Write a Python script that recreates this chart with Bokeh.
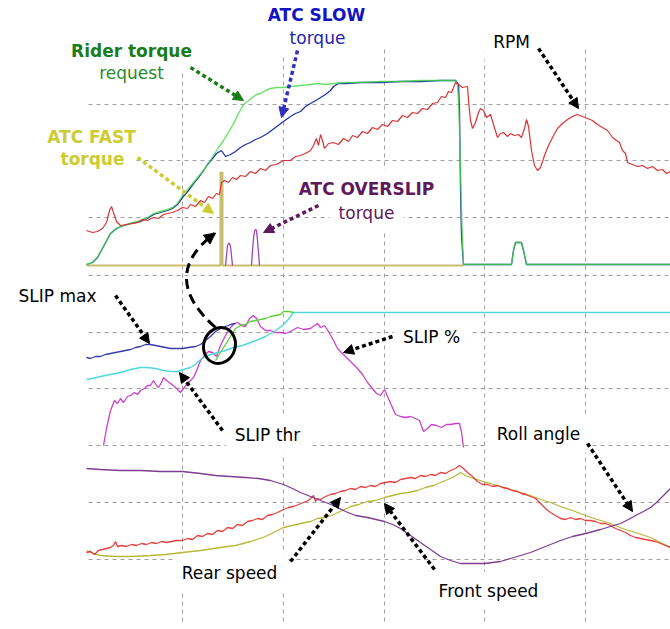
from bokeh.plotting import figure
from bokeh.models import Range1d, Arrow, NormalHead, ColumnDataSource
from bokeh.core.properties import value
from bokeh.embed import file_html
from bokeh.resources import INLINE

# ---------------- data (x = sample index, y = display value, 0 at bottom) ----------------
grid_x = [182, 283, 384, 484, 585]
grid_y = [525, 469, 412, 354, 297, 241, 184, 127, 70]

rider_x = [86, 92, 97, 103, 110, 116, 123, 130, 140, 147, 153, 160, 167, 172, 177, 182, 188, 193, 198, 203,
           208, 213, 218, 223, 228, 233, 238, 243, 247, 252, 256, 260, 265, 270, 276, 283, 290, 300, 310, 317,
           325, 333, 345, 360, 380, 400, 420, 440, 452, 455, 457, 458, 459, 460, 461, 462, 463, 480, 500, 511,
           513, 515, 521, 523, 526, 560, 600, 640, 670]
rider_y = [365, 367, 372, 383, 396, 401, 404, 406, 409, 412, 416, 418, 420, 422, 426, 434, 441, 447, 453, 459,
           466, 474, 482, 489, 497, 506, 516, 525, 528, 532, 535, 536, 539, 541, 542, 542, 543, 544, 545, 546,
           545, 546, 547, 547, 548, 548, 549, 549, 549, 549, 544, 529, 499, 459, 419, 389, 365, 365, 365, 365,
           379, 387, 387, 379, 365, 365, 365, 365, 365]

slow_x = [86, 92, 97, 103, 110, 116, 123, 130, 140, 147, 153, 160, 167, 172, 177, 182, 188, 193, 198, 203,
          207, 212, 216, 221, 225, 230, 235, 240, 245, 250, 255, 260, 267, 275, 283, 290, 295, 300, 305, 310,
          317, 325, 330, 333, 338, 345, 360, 380, 400, 420, 440, 452, 455, 458, 459, 460, 461, 462, 463, 511,
          513, 515, 521, 523, 526, 670]
slow_y = [365, 367, 372, 383, 396, 401, 404, 406, 408, 411, 415, 417, 419, 421, 425, 432, 439, 446, 452, 459,
          465, 471, 476, 479, 473, 475, 478, 482, 485, 487, 490, 492, 496, 502, 508, 513, 516, 518, 523, 526,
          530, 535, 539, 543, 546, 546, 547, 547, 548, 548, 549, 549, 549, 545, 520, 440, 394, 379, 365, 365,
          379, 387, 387, 379, 365, 365]

fast_x = [86, 220, 220, 222, 222, 463]
fast_y = [364, 364, 457, 457, 364, 364]

overslip_xs = [[225, 226, 227, 228, 229, 230, 231, 232],
               [251, 252, 253, 254, 255, 256, 257, 258, 259]]
overslip_ys = [[364, 374, 384, 386, 386, 383, 374, 364],
               [364, 379, 391, 398, 400, 399, 389, 377, 364]]

rpm = [(86, 399), (92, 397), (97, 398), (102, 401), (106, 407), (109, 419), (111, 423), (113, 417), (116, 408),
       (120, 404), (126, 405), (132, 406), (138, 407), (142, 410), (147, 409), (153, 412), (158, 411), (163, 415),
       (167, 416), (172, 417), (177, 419), (182, 422), (187, 421), (190, 425), (195, 423), (200, 429), (204, 427),
       (208, 433), (212, 431), (216, 436), (219, 435), (221, 447), (224, 449), (228, 447), (232, 452), (236, 450),
       (240, 454), (245, 453), (250, 458), (255, 456), (260, 461), (265, 459), (270, 464), (276, 465), (283, 469),
       (290, 469), (295, 473), (300, 474), (305, 476), (310, 479), (313, 484), (316, 491), (318, 484), (320, 495),
       (322, 489), (324, 481), (328, 486), (333, 487), (338, 485), (343, 491), (348, 488), (352, 494), (357, 492),
       (362, 498), (367, 496), (372, 502), (377, 500), (382, 505), (387, 503), (392, 509), (397, 508), (402, 514),
       (407, 512), (412, 517), (417, 516), (422, 521), (427, 520), (432, 526), (437, 527), (441, 533), (445, 532),
       (448, 538), (451, 537), (453, 542), (455, 547), (458, 545), (462, 542), (467, 543), (468, 529), (470, 509),
       (472, 501), (475, 507), (478, 517), (480, 521), (483, 519), (486, 512), (490, 515), (493, 505), (497, 492),
       (500, 496), (503, 497), (507, 493), (510, 496), (514, 494), (518, 495), (521, 492), (524, 501), (526, 510),
       (528, 503), (531, 479), (534, 464), (537, 459), (540, 462), (544, 474), (548, 484), (552, 492), (557, 501),
       (562, 506), (567, 510), (572, 513), (577, 515), (582, 513), (587, 511), (592, 509), (597, 505), (602, 502),
       (607, 499), (612, 492), (616, 489), (619, 487), (622, 479), (625, 476), (627, 467), (632, 465), (637, 463),
       (642, 464), (647, 461), (652, 463), (657, 459), (662, 460), (666, 456), (670, 458)]

slip_max = [(86, 272), (90, 271), (95, 273), (100, 273), (105, 275), (110, 276), (115, 277), (120, 278),
            (125, 279), (130, 280), (135, 282), (140, 283), (145, 285), (150, 285), (155, 284), (160, 283),
            (165, 282), (170, 281), (175, 281), (182, 281), (188, 282), (195, 283), (200, 285), (205, 289),
            (210, 293), (215, 298), (220, 301), (225, 303), (230, 305), (235, 306)]

slip_ctrl = [(215, 269), (220, 277), (225, 285), (230, 293), (235, 301), (240, 304), (245, 305), (250, 308),
             (255, 309), (260, 310), (265, 311), (270, 313), (275, 314), (280, 315), (283, 318), (288, 318),
             (293, 317)]

slip_thr = [(86, 250), (92, 251), (100, 253), (110, 255), (120, 257), (130, 260), (140, 262), (147, 262),
            (155, 261), (163, 259), (170, 258), (177, 258), (183, 260), (190, 262), (195, 265), (200, 270),
            (205, 273), (210, 275), (217, 277), (225, 279), (233, 282), (242, 284), (250, 287), (258, 290),
            (265, 293), (272, 297), (278, 301), (283, 305), (287, 309), (290, 313), (293, 317), (670, 317)]

slip_pct = [(103, 184), (106, 201), (110, 219), (114, 229), (117, 226), (120, 231), (123, 227), (127, 233),
            (130, 234), (134, 237), (137, 235), (140, 239), (144, 241), (147, 244), (150, 244), (153, 249),
            (156, 244), (158, 242), (161, 247), (163, 252), (166, 249), (170, 246), (174, 243), (177, 240),
            (180, 237), (183, 241), (186, 245), (189, 248), (193, 252), (197, 261), (200, 269), (204, 274),
            (208, 278), (212, 277), (216, 273), (220, 284), (225, 294), (230, 302), (234, 306), (237, 307),
            (241, 304), (245, 303), (249, 311), (253, 314), (256, 311), (260, 303), (265, 299), (270, 299),
            (275, 297), (280, 297), (285, 296), (290, 298), (297, 302), (303, 300), (310, 301), (314, 304),
            (317, 306), (320, 302), (324, 304), (328, 298), (333, 289), (337, 281), (342, 276), (347, 271),
            (352, 266), (357, 261), (362, 255), (367, 247), (372, 241), (376, 236), (380, 234), (384, 240),
            (387, 233), (391, 224), (395, 215), (400, 213), (405, 212), (410, 213), (415, 211), (419, 209),
            (423, 198), (427, 201), (431, 205), (436, 204), (441, 202), (446, 205), (450, 205), (455, 206),
            (459, 206), (461, 197), (463, 182)]

roll = [(86, 161), (100, 160), (120, 159), (140, 159), (160, 158), (182, 158), (200, 156), (215, 154),
        (230, 153), (245, 152), (258, 151), (270, 149), (283, 145), (292, 141), (300, 137), (310, 133),
        (320, 129), (333, 124), (345, 118), (355, 114), (367, 112), (384, 108), (392, 105), (400, 101),
        (410, 94), (420, 87), (430, 80), (440, 73), (450, 69), (460, 66), (470, 66), (484, 66), (500, 68),
        (510, 71), (520, 74), (530, 77), (540, 81), (550, 85), (560, 89), (572, 93), (585, 96), (600, 100),
        (610, 103), (620, 106), (628, 110), (635, 114), (643, 118), (650, 122), (656, 127), (660, 131),
        (665, 136), (670, 141)]

rear = [(86, 77), (90, 78), (94, 75), (98, 79), (102, 80), (106, 81), (110, 82), (113, 84), (115, 88), (117, 83),
        (121, 84), (126, 83), (131, 85), (136, 84), (141, 86), (146, 85), (151, 87), (156, 86), (161, 88),
        (166, 87), (171, 88), (176, 89), (182, 89), (187, 91), (192, 90), (197, 94), (202, 93), (207, 96),
        (212, 95), (217, 99), (222, 98), (227, 102), (232, 101), (237, 105), (242, 104), (247, 108), (252, 109),
        (257, 111), (262, 110), (267, 114), (272, 115), (277, 117), (283, 120), (288, 122), (293, 123), (298, 125),
        (303, 127), (308, 129), (311, 132), (313, 134), (315, 128), (317, 131), (320, 130), (325, 133), (330, 135),
        (335, 136), (340, 138), (345, 139), (350, 141), (355, 140), (360, 143), (365, 142), (370, 144), (375, 143),
        (380, 146), (385, 147), (390, 148), (395, 147), (400, 150), (405, 151), (410, 152), (415, 151), (420, 154),
        (425, 153), (430, 155), (435, 154), (440, 157), (445, 156), (450, 159), (455, 161), (459, 164), (463, 161),
        (467, 157), (472, 153), (477, 148), (482, 145), (487, 145), (492, 143), (497, 144), (502, 142), (507, 141),
        (512, 139), (517, 138), (521, 136), (525, 135), (530, 133), (535, 131), (540, 126), (545, 121), (550, 117),
        (555, 114), (560, 111), (565, 110), (570, 112), (575, 110), (580, 111), (585, 109), (590, 109), (595, 108),
        (600, 106), (605, 106), (610, 104), (615, 101), (620, 99), (625, 97), (630, 94), (635, 92), (640, 91),
        (645, 90), (650, 89), (655, 88), (660, 86), (665, 84), (670, 82)]

front = [(86, 79), (93, 76), (100, 74), (115, 73), (130, 73), (150, 74), (165, 75), (182, 77), (200, 79),
         (220, 82), (235, 84), (250, 88), (265, 93), (283, 102), (300, 106), (310, 108), (317, 111), (325, 112),
         (333, 115), (342, 119), (350, 123), (358, 125), (367, 128), (375, 129), (384, 132), (392, 134),
         (400, 136), (408, 137), (417, 139), (425, 142), (433, 144), (440, 147), (445, 149), (452, 152),
         (460, 157), (465, 154), (470, 152), (483, 148), (490, 146), (500, 143), (510, 140), (520, 137),
         (530, 134), (540, 130), (550, 127), (560, 123), (572, 119), (585, 114), (597, 110), (610, 106),
         (622, 101), (635, 97), (650, 92), (660, 87), (670, 82)]

bold_labels = ["ATC SLOW", "Rider torque", "ATC FAST", "torque", "ATC OVERSLIP"]
bold_pos = [(316, 615), (131, 579), (91, 493), (92, 471), (366, 441)]
bold_colors = ["#1414c0", "#1a7d1a", "#cccc33", "#cccc33", "#5c1a5c"]

plain_labels = ["torque", "request", "torque", "RPM", "SLIP max", "SLIP thr", "SLIP %",
                "Roll angle", "Rear speed", "Front speed"]
plain_pos = [(317, 592), (131, 557), (366, 417), (511, 588), (57, 334), (267, 195), (431, 293),
             (538, 196), (229, 57), (488, 39)]
plain_colors = ["#2424b0", "#2a8a2a", "#5c1a5c", "black", "black", "black", "black",
                "black", "black", "black"]

# ---------------- figure ----------------
p = figure(width=670, height=629, x_range=Range1d(0, 670), y_range=Range1d(0, 629),
           output_backend="svg", toolbar_location=None, x_axis_type=None, y_axis_type=None,
           min_border=0, outline_line_color=None, background_fill_color="white",
           border_fill_color="white")

GRID = "#a0a0a0"
p.segment(x0=[88] * len(grid_y), x1=[670] * len(grid_y), y0=grid_y, y1=grid_y,
          line_color=GRID, line_width=1, line_dash="4 4")
p.segment(x0=grid_x, x1=grid_x, y0=[580] * len(grid_x), y1=[7] * len(grid_x),
          line_color=GRID, line_width=1, line_dash="4 4")

FONT = value("DejaVu Sans")
src_b = ColumnDataSource(dict(x=[a for a, b in bold_pos], y=[b for a, b in bold_pos],
                              text=bold_labels, color=bold_colors))
src_p = ColumnDataSource(dict(x=[a for a, b in plain_pos], y=[b for a, b in plain_pos],
                              text=plain_labels, color=plain_colors))
# white boxes behind the labels (hide the grid), drawn before any text
for src, style in ((src_b, "bold"), (src_p, "normal")):
    p.text(x="x", y="y", text="text", source=src, text_alpha=0, text_font=FONT,
           text_font_size="17px", text_font_style=style, text_align="center",
           text_baseline="middle", background_fill_color="white", padding=9)


def xy(pairs):
    return [a for a, b in pairs], [b for a, b in pairs]


# top panel
p.line(fast_x, fast_y, line_color="#c9bd6e", line_width=2)
p.multi_line(overslip_xs, overslip_ys, line_color="#a044b4", line_width=1.3)
p.line(slow_x, slow_y, line_color="#2233a8", line_width=1.3)
p.line(rider_x, rider_y, line_color="#45d845", line_width=1.4, line_alpha=0.8)
rx, ry = xy(rpm)
p.line(rx, ry, line_color="#d93535", line_width=1.2)

# middle panel
sx, sy = xy(slip_pct)
p.line(sx, sy, line_color="#cc40cc", line_width=1.3)
tx, ty = xy(slip_thr)
p.line(tx, ty, line_color="#50d8d8", line_width=1.4)
mx, my = xy(slip_max)
p.line(mx, my, line_color="#3a3aa8", line_width=1.3)
cx_, cy_ = xy(slip_ctrl)
p.line(cx_, cy_, line_color="#5ccf3a", line_width=1.3)

# bottom panel
fx, fy = xy(front)
p.line(fx, fy, line_color="#b8b83a", line_width=1.3)
ex, ey = xy(rear)
p.line(ex, ey, line_color="#e02020", line_width=1.3, line_alpha=0.85)
ox, oy = xy(roll)
p.line(ox, oy, line_color="#7e3d92", line_width=1.3)

# label texts (no box)
for src, style in ((src_b, "bold"), (src_p, "normal")):
    p.text(x="x", y="y", text="text", source=src, text_color="color", text_font=FONT,
           text_font_size="17px", text_font_style=style, text_align="center",
           text_baseline="middle")

# ellipse + dashed curved arrow
p.ellipse(x=[219], y=[284], width=31.5, height=36.4, angle=-0.3, fill_alpha=0,
          line_color="black", line_width=3)
p.quadratic(x0=[215], y0=[302], x1=[214], y1=[396], cx=[157.5], cy=[353],
            line_color="black", line_width=3, line_dash="10 6")
p.add_layout(Arrow(end=NormalHead(size=11, fill_color="black", line_color="black"),
                   x_start=207, y_start=390.5, x_end=215, y_end=396.5, line_alpha=0))

arrows = [((190, 562), (243, 529), "#1a7d1a"),
          ((297, 579), (281, 512), "#3030c0"),
          ((137, 472), (213, 416), "#cccc33"),
          ((318, 424), (263, 397), "#5c1a5c"),
          ((538, 581), (578, 521), "black"),
          ((115, 334), (149, 286), "black"),
          ((222, 199), (179, 257), "black"),
          ((392, 293), (343, 277), "black"),
          ((587, 186), (632, 118), "black"),
          ((290, 68), (340, 132), "black"),
          ((434, 60), (384, 126), "black")]
for (x0, y0), (x1, y1), c in arrows:
    p.add_layout(Arrow(end=NormalHead(size=10, fill_color=c, line_color=c),
                       x_start=x0, y_start=y0, x_end=x1, y_end=y1,
                       line_color=c, line_width=3.5, line_dash="4 3"))

open("out.html", "w").write(file_html(p, INLINE))
